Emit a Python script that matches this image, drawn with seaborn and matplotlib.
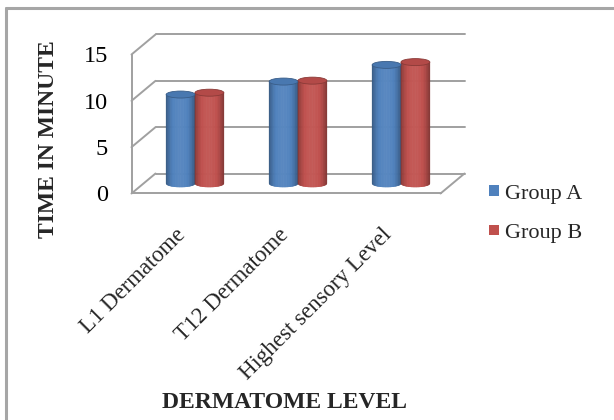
import numpy as np
import pandas as pd
import matplotlib
matplotlib.use("Agg")
import matplotlib.pyplot as plt
from matplotlib.patches import Ellipse, ConnectionPatch
from matplotlib.collections import PolyCollection
from matplotlib.lines import Line2D
from matplotlib.transforms import ScaledTranslation
import seaborn as sns

# ---- data -------------------------------------------------------------
levels = ["L1 Dermatome", "T12 Dermatome", "Highest sensory Level"]
groups = ["Group A", "Group B"]
group_a = [9.6, 11.0, 12.8]
group_b = [9.8, 11.1, 13.1]
y_ticks = [0, 5, 10, 15]

palette = {"Group A": "#4F81BD", "Group B": "#C0504D"}

df = pd.DataFrame({
    "level": levels * 2,
    "group": [groups[0]] * len(levels) + [groups[1]] * len(levels),
    "time": group_a + group_b,
})

sns.set_style("white")
plt.rcParams["font.family"] = ["Liberation Serif", "DejaVu Serif"]

W, H = 614, 420
fig = plt.figure(figsize=(W / 100, H / 100), dpi=100)
fig.patch.set_facecolor("white")

# three parallel planes give the oblique 3-D look: back wall, bar plane, front
PLANE_W, PLANE_H = 309, 139
DX, DY = 12, 10          # half depth offset in pixels
MID_LEFT, MID_BASE = 143.5, 183.5
GRAY = "#a0a0a0"


def plane(dx, dy, z):
    left = MID_LEFT + dx
    base = MID_BASE - dy
    ax = fig.add_axes([left / W, 1 - base / H, PLANE_W / W, PLANE_H / H], zorder=z)
    ax.set_facecolor("none")
    ax.set_xlim(-0.5, 2.5)
    ax.set_ylim(0, 15)
    return ax


ax_back = plane(DX, DY, 0)
ax_mid = plane(0, 0, 1)
ax_front = plane(-DX, -DY, 2)

# back wall: gridlines only
ax_back.set_yticks(y_ticks)
ax_back.set_xticks([])
ax_back.tick_params(left=False, labelleft=False)
ax_back.grid(axis="y", color=GRAY, lw=1.4)
for s in ax_back.spines.values():
    s.set_visible(False)
for gl in ax_back.get_ygridlines():
    gl.set_clip_on(False)

# bars
sns.barplot(data=df, x="level", y="time", hue="group", palette=palette,
            width=0.56, saturation=1, ax=ax_mid, legend=True)
ax_mid.set_xlim(-0.5, 2.5)
ax_mid.set_ylim(0, 15)
ax_mid.set_xlabel("")
ax_mid.set_ylabel("")
ax_mid.set_xticks([])
ax_mid.set_yticks([])
for s in ax_mid.spines.values():
    s.set_visible(False)

sns.move_legend(ax_mid, "upper left", bbox_to_anchor=(489 / W, 1 - 184.5 / H),
                bbox_transform=fig.transFigure, frameon=False, title=None,
                fontsize=16, handlelength=0.45, handleheight=0.38,
                handletextpad=0.28, labelspacing=0.92, borderpad=0,
                borderaxespad=0)
for handle in ax_mid.get_legend().legend_handles:
    handle.set_edgecolor("none")
    handle.set_linewidth(0)

# cylinder shading for each bar
px_per_unit = PLANE_H / 15
ry = 3.5 / px_per_unit
n_strips = 40
for cont in ax_mid.containers:
    for bar in cont:
        x0, w, h = bar.get_x(), bar.get_width(), bar.get_height()
        base = np.array(bar.get_facecolor()[:3])
        bar.set_visible(False)
        xc = x0 + w / 2
        edges = np.linspace(x0, x0 + w, n_strips + 1)
        polys, cols = [], []
        for a, b in zip(edges[:-1], edges[1:]):
            ya = -ry * np.sqrt(max(0.0, 1 - ((a - xc) / (w / 2)) ** 2))
            yb = -ry * np.sqrt(max(0.0, 1 - ((b - xc) / (w / 2)) ** 2))
            polys.append([(a, ya), (b, yb), (b, h), (a, h)])
            t = ((a + b) / 2 - x0) / w
            f = 0.64 + 0.46 * np.sin(np.pi * t) ** 0.7
            c = base * f
            if f > 1:
                c = base + (1 - base) * (f - 1) * 0.5
            cols.append(np.clip(c, 0, 1))
        pc = PolyCollection(polys, facecolors=cols, edgecolors=cols,
                            linewidths=0.4, clip_on=False, zorder=3)
        ax_mid.add_collection(pc)
        cap = Ellipse((xc, h), w, 2 * ry, facecolor=np.clip(base * 0.93, 0, 1),
                      edgecolor=np.clip(base * 0.72, 0, 1), lw=0.6,
                      clip_on=False, zorder=4)
        ax_mid.add_patch(cap)

# front plane: value axis and floor edge
for side in ("top", "right"):
    ax_front.spines[side].set_visible(False)
for side in ("left", "bottom"):
    ax_front.spines[side].set_color(GRAY)
    ax_front.spines[side].set_linewidth(1.4)
ax_front.set_yticks(y_ticks)
ax_front.tick_params(axis="y", length=6, width=1.3, color=GRAY, pad=11,
                     labelsize=17.5, labelcolor="black")
ax_front.set_xticks(range(len(levels)))
ax_front.set_xticklabels(levels)
ax_front.tick_params(axis="x", length=0, pad=22, labelsize=16.5)
for lbl in ax_front.get_xticklabels():
    lbl.set_rotation(45)
    lbl.set_ha("right")
    lbl.set_va("top")
    lbl.set_rotation_mode("anchor")
    lbl.set_transform(lbl.get_transform() +
                      ScaledTranslation(-8 / 100, 0, fig.dpi_scale_trans))

ax_front.set_ylabel("TIME IN MINUTE", fontsize=17, fontweight="bold")
ax_front.yaxis.set_label_coords(-0.235, 0.39)
ax_front.set_xlabel("DERMATOME LEVEL", fontsize=17, fontweight="bold")
ax_front.xaxis.set_label_coords(0.495, -1.43)

# side wall and floor depth edges
for v in y_ticks:
    fig.add_artist(ConnectionPatch(xyA=(-0.5, v), coordsA=ax_front.transData,
                                   xyB=(-0.5, v), coordsB=ax_back.transData,
                                   color=GRAY, lw=1.4))
fig.add_artist(ConnectionPatch(xyA=(2.5, 0), coordsA=ax_front.transData,
                               xyB=(2.5, 0), coordsB=ax_back.transData,
                               color=GRAY, lw=1.4))

# chart frame
fig.add_artist(Line2D([6 / W, 6 / W], [0, 1 - 7.5 / H], transform=fig.transFigure,
                      color="#a6a6a6", lw=2.2))
fig.add_artist(Line2D([6 / W, 1], [1 - 7.5 / H, 1 - 7.5 / H], transform=fig.transFigure,
                      color="#a6a6a6", lw=2.2))

fig.savefig("out.png", dpi=100)
